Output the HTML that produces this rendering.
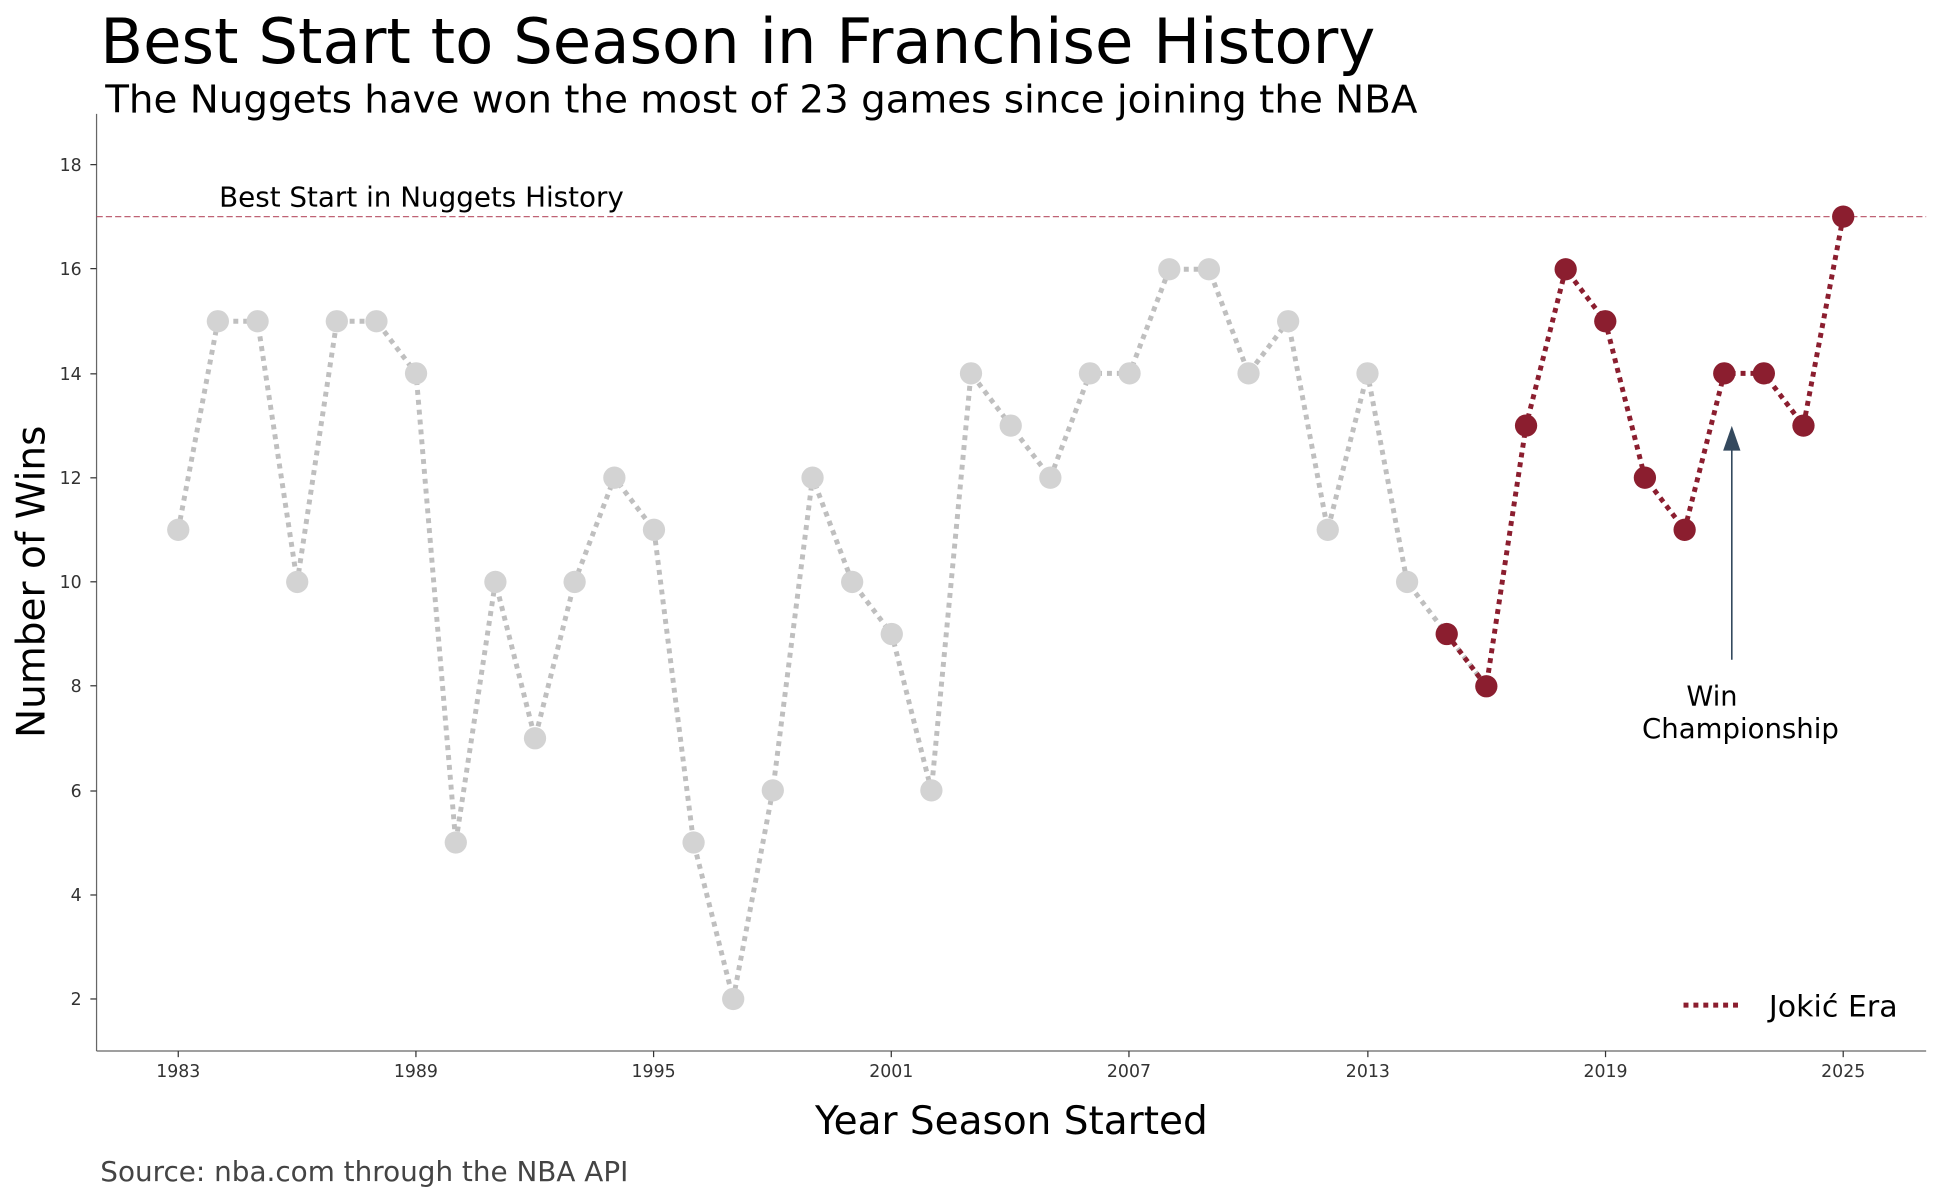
<!DOCTYPE html>
<html><head><meta charset="utf-8"><style>html,body{margin:0;padding:0;background:#fff}svg{display:block}text{font-family:"DejaVu Sans","Liberation Sans",sans-serif}</style></head><body>
<svg width="1941" height="1200" viewBox="0 0 1568 969.4" preserveAspectRatio="none" xmlns="http://www.w3.org/2000/svg">
<rect width="1568" height="970" fill="#fff"/>
<text x="81" y="51" font-size="50.5" fill="#000" textLength="1030" lengthAdjust="spacingAndGlyphs">Best Start to Season in Franchise History</text>
<text x="85" y="91" font-size="31" fill="#000" textLength="1060" lengthAdjust="spacingAndGlyphs">The Nuggets have won the most of 23 games since joining the NBA</text>
<line x1="78" y1="92" x2="78" y2="849" stroke="#666" stroke-width="1"/>
<line x1="78" y1="849" x2="1556" y2="849" stroke="#666" stroke-width="1"/>
<g font-size="14" fill="#333" text-anchor="end" stroke="none">
<text x="66" y="138">18</text><text x="66" y="222">16</text><text x="66" y="307">14</text><text x="66" y="391">12</text><text x="66" y="475">10</text><text x="66" y="559">8</text><text x="66" y="644">6</text><text x="66" y="728">4</text><text x="66" y="812">2</text>
</g>
<g stroke="#333" stroke-width="1">
<line x1="73" y1="133" x2="78" y2="133"/><line x1="73" y1="217" x2="78" y2="217"/><line x1="73" y1="302" x2="78" y2="302"/><line x1="73" y1="386" x2="78" y2="386"/><line x1="73" y1="470" x2="78" y2="470"/><line x1="73" y1="554" x2="78" y2="554"/><line x1="73" y1="639" x2="78" y2="639"/><line x1="73" y1="723" x2="78" y2="723"/><line x1="73" y1="807" x2="78" y2="807"/>
<line x1="144" y1="849" x2="144" y2="854"/><line x1="336" y1="849" x2="336" y2="854"/><line x1="528" y1="849" x2="528" y2="854"/><line x1="720" y1="849" x2="720" y2="854"/><line x1="912" y1="849" x2="912" y2="854"/><line x1="1105" y1="849" x2="1105" y2="854"/><line x1="1297" y1="849" x2="1297" y2="854"/><line x1="1489" y1="849" x2="1489" y2="854"/>
</g>
<g font-size="14" fill="#333" text-anchor="middle">
<text x="144" y="870">1983</text><text x="336" y="870">1989</text><text x="528" y="870">1995</text><text x="720" y="870">2001</text><text x="912" y="870">2007</text><text x="1105" y="870">2013</text><text x="1297" y="870">2019</text><text x="1489" y="870">2025</text>
</g>
<text x="817" y="916" font-size="31.5" text-anchor="middle" fill="#000">Year Season Started</text>
<text transform="translate(36,470) rotate(-90)" font-size="31.5" text-anchor="middle" fill="#000">Number of Wins</text>
<text x="81" y="954" font-size="22.5" fill="#444">Source: nba.com through the NBA API</text>
<line x1="78" y1="175" x2="1556" y2="175" stroke="#b5485e" stroke-width="1" stroke-dasharray="5 2.5" opacity="0.85"/>
<text x="177" y="167" font-size="22" fill="#000" textLength="327" lengthAdjust="spacingAndGlyphs">Best Start in Nuggets History</text>
<polyline fill="none" stroke="#bfbfbf" stroke-width="4" stroke-dasharray="4 4" points="144.0,428 176.0,259.5 208.1,259.5 240.1,470.1 272.1,259.5 304.1,259.5 336.1,301.6 368.2,680.6 400.2,470.1 432.2,596.4 464.2,470.1 496.3,385.9 528.3,428 560.3,680.6 592.3,807 624.3,638.5 656.4,385.9 688.4,470.1 720.4,512.2 752.4,638.5 784.4,301.6 816.5,343.8 848.5,385.9 880.5,301.6 912.5,301.6 944.6,217.5 976.6,217.5 1008.6,301.6 1040.6,259.5 1072.6,428 1104.7,301.6 1136.7,470.1 1168.7,512.2 1200.7,554.4"/>
<polyline fill="none" stroke="#8b1e2f" stroke-width="4" stroke-dasharray="4 4" points="1168.7,512.2 1200.7,554.4 1232.8,343.8 1264.8,217.5 1296.8,259.5 1328.8,385.9 1360.9,428 1392.9,301.6 1424.9,301.6 1456.9,343.8 1489,175"/>
<g fill="#d3d3d3">
<circle cx="144.0" cy="428" r="9"/><circle cx="176.0" cy="259.5" r="9"/><circle cx="208.1" cy="259.5" r="9"/><circle cx="240.1" cy="470.1" r="9"/><circle cx="272.1" cy="259.5" r="9"/><circle cx="304.1" cy="259.5" r="9"/><circle cx="336.1" cy="301.6" r="9"/><circle cx="368.2" cy="680.6" r="9"/><circle cx="400.2" cy="470.1" r="9"/><circle cx="432.2" cy="596.4" r="9"/><circle cx="464.2" cy="470.1" r="9"/><circle cx="496.3" cy="385.9" r="9"/><circle cx="528.3" cy="428" r="9"/><circle cx="560.3" cy="680.6" r="9"/><circle cx="592.3" cy="807" r="9"/><circle cx="624.3" cy="638.5" r="9"/><circle cx="656.4" cy="385.9" r="9"/><circle cx="688.4" cy="470.1" r="9"/><circle cx="720.4" cy="512.2" r="9"/><circle cx="752.4" cy="638.5" r="9"/><circle cx="784.4" cy="301.6" r="9"/><circle cx="816.5" cy="343.8" r="9"/><circle cx="848.5" cy="385.9" r="9"/><circle cx="880.5" cy="301.6" r="9"/><circle cx="912.5" cy="301.6" r="9"/><circle cx="944.6" cy="217.5" r="9"/><circle cx="976.6" cy="217.5" r="9"/><circle cx="1008.6" cy="301.6" r="9"/><circle cx="1040.6" cy="259.5" r="9"/><circle cx="1072.6" cy="428" r="9"/><circle cx="1104.7" cy="301.6" r="9"/><circle cx="1136.7" cy="470.1" r="9"/>
</g>
<g fill="#8b1e2f">
<circle cx="1168.7" cy="512.2" r="9"/><circle cx="1200.7" cy="554.4" r="9"/><circle cx="1232.8" cy="343.8" r="9"/><circle cx="1264.8" cy="217.5" r="9"/><circle cx="1296.8" cy="259.5" r="9"/><circle cx="1328.8" cy="385.9" r="9"/><circle cx="1360.9" cy="428" r="9"/><circle cx="1392.9" cy="301.6" r="9"/><circle cx="1424.9" cy="301.6" r="9"/><circle cx="1456.9" cy="343.8" r="9"/><circle cx="1489" cy="175" r="9"/>
</g>
<line x1="1399" y1="533" x2="1399" y2="362" stroke="#34495e" stroke-width="1.3"/>
<polygon points="1399,344 1392,364 1406,364" fill="#34495e"/>
<text x="1383" y="570" font-size="22" text-anchor="middle" fill="#000">Win</text>
<text x="1406" y="596" font-size="22" text-anchor="middle" fill="#000" textLength="159" lengthAdjust="spacingAndGlyphs">Championship</text>
<line x1="1360" y1="812" x2="1406" y2="812" stroke="#8b1e2f" stroke-width="4" stroke-dasharray="4 4"/>
<text x="1429" y="821" font-size="24" fill="#000" textLength="104" lengthAdjust="spacingAndGlyphs">Jokić Era</text>
</svg>
</body></html>
